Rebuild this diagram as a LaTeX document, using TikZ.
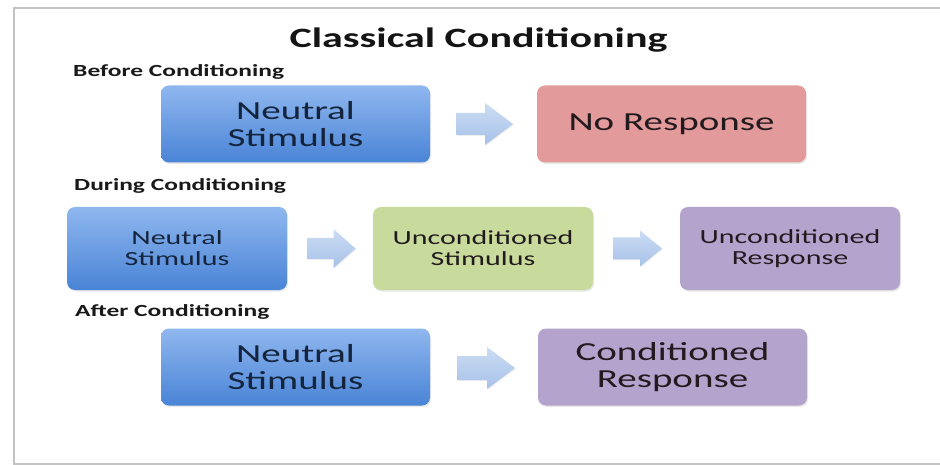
\documentclass[tikz,border=0pt]{standalone}
\usepackage{fontspec}
\setmainfont[FakeStretch=1.5]{Carlito}
\usetikzlibrary{calc,shadows}
\definecolor{bluetop}{HTML}{8FB7EF}
\definecolor{bluebot}{HTML}{4A84D6}
\definecolor{redfill}{HTML}{E29A9A}
\definecolor{greenfill}{HTML}{C9DB9C}
\definecolor{purplefill}{HTML}{B4A4CD}
\definecolor{arrtop}{HTML}{CCDDF4}
\definecolor{arrbot}{HTML}{A6C1E8}
\definecolor{navytext}{HTML}{14243C}
\definecolor{darktext}{HTML}{221A1E}
\definecolor{framegray}{HTML}{C4C4C4}
\newcommand\blkarrow[6]{%
  \path[#1] ($(#2)+({-#3/2},{-#5/2})$) -- ++({#3-#6},0) -- ++(0,{-(#4-#5)/2})
    -- ++(#6,{#4/2}) -- ++({-#6},{#4/2}) -- ++(0,{-(#4-#5)/2}) -- ++({-(#3-#6)},0) -- cycle;}
\begin{document}
\begin{tikzpicture}[x=1pt,y=-1pt,
  box/.style={rounded corners=8pt, inner sep=0pt, align=center,
    drop shadow={opacity=0.18, shadow xshift=1pt, shadow yshift=-1.5pt}},
  bigbox/.style={box, minimum width=269pt, minimum height=77pt,
    font=\fontsize{26}{27}\selectfont},
  smallbox/.style={box, minimum width=220pt, minimum height=83pt,
    font=\fontsize{20}{21}\selectfont},
  bluebox/.style={top color=bluetop, bottom color=bluebot, text=navytext},
  redbox/.style={fill=redfill, text=darktext},
  greenbox/.style={fill=greenfill, text=darktext},
  purplebox/.style={fill=purplefill, text=darktext},
  heading/.style={anchor=base west, inner sep=0pt, font=\bfseries\fontsize{17}{17}\selectfont, text=black!90},
  blockarr/.style={top color=arrtop, bottom color=arrbot,
    drop shadow={opacity=0.12, shadow xshift=0.8pt, shadow yshift=-1pt}}
]
\useasboundingbox (0,0) rectangle (940,465);
\fill[white] (0,0) rectangle (940,465);
\draw[framegray, line width=1.3pt] (940,8) -- (14,8) -- (14,464) -- (940,464);

\node[anchor=base, inner sep=0pt, font=\bfseries\fontsize{28}{28}\selectfont, text=black!92] (title) at (478.5,48) {Classical Conditioning};

\node[heading] (hbefore) at (73,77) {Before Conditioning};
\node[heading] (hduring) at (74,190.5) {During Conditioning};
\node[heading] (hafter) at (75,316.5) {After Conditioning};

% row 1
\node[bigbox, bluebox] (ns1) at (295.5,124) {Neutral\\Stimulus};
\node[bigbox, redbox] (nr) at (671.5,124) {No Response};
% row 2
\node[smallbox, bluebox] (ns2) at (177,248.5) {Neutral\\Stimulus};
\node[smallbox, greenbox] (us) at (483,248.5) {Unconditioned\\Stimulus};
\node[smallbox, purplebox] (ur) at (790,248.5) {Unconditioned\\Response};
% row 3
\node[bigbox, bluebox] (ns3) at (295.5,367) {Neutral\\Stimulus};
\node[bigbox, purplebox] (cr) at (672.5,367) {Conditioned\\Response};

% block arrows
\coordinate (c1) at ($(ns1.east)!0.5!(nr.west)+(1,0)$);
\coordinate (c2) at ($(ns2.east)!0.5!(us.west)+(1.5,0)$);
\coordinate (c3) at ($(us.east)!0.5!(ur.west)+(1,0)$);
\coordinate (c4) at ($(ns3.east)!0.5!(cr.west)+(2,1)$);
\blkarrow{blockarr}{c1}{57}{42}{22}{28}
\blkarrow{blockarr}{c2}{48}{39}{21}{22}
\blkarrow{blockarr}{c3}{49}{36}{22}{22}
\blkarrow{blockarr}{c4}{58}{42}{24}{28}
\end{tikzpicture}
\end{document}
